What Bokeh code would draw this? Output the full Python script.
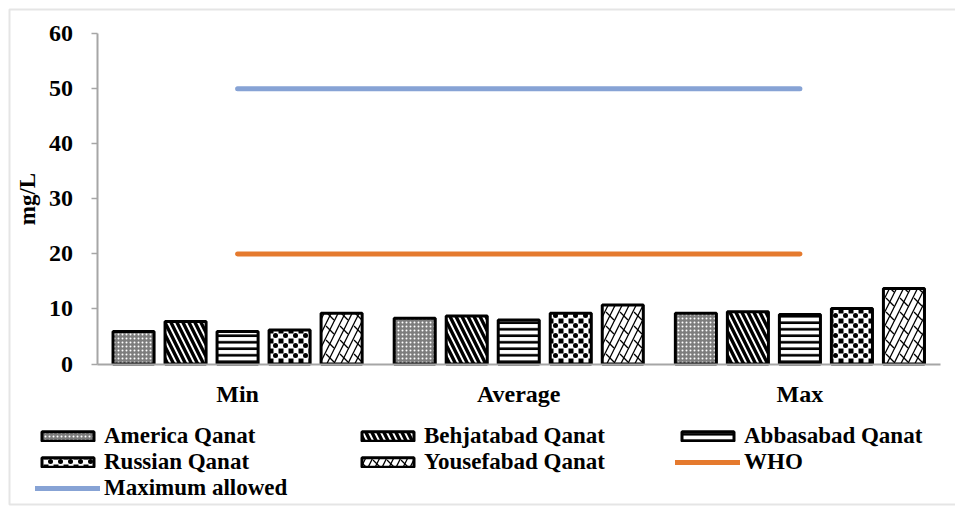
from bokeh.embed import file_html
from bokeh.models import (BoxAnnotation, ColumnDataSource, FixedTicker, Legend,
                          LegendItem, LinearAxis, Range1d, SingleIntervalTicker)
from bokeh.plotting import figure
from bokeh.resources import INLINE
from bokeh.transform import dodge

# ---- data (mg/L) ----
categories = ["Min", "Average", "Max"]
america = [5.9, 8.3, 9.2]
behjatabad = [7.7, 8.7, 9.5]
abbasabad = [5.9, 8.0, 9.0]
russian = [6.2, 9.2, 10.1]
yousefabad = [9.2, 10.7, 13.7]
who_limit = [20, 20, 20]
max_allowed = [50, 50, 50]

series_names = ["America Qanat", "Behjatabad Qanat", "Abbasabad Qanat",
                "Russian Qanat", "Yousefabad Qanat"]
line_names = ["WHO", "Maximum allowed"]

FONT = "Liberation Serif"

# ---- canvas layout (px) ----
W, H = 955, 506
AXIS_X, AXIS_Y0, AXIS_Y60 = 96.5, 363.5, 33.3
PLOT_RIGHT = 940.0
BORDER_TOP, BORDER_BOTTOM, BORDER_LEFT = 9, H - 2, 9
Y_MIN, Y_MAX = 0, 60

ncat = len(categories)
px_per_cat = (PLOT_RIGHT - AXIS_X) / ncat
px_per_unit = (AXIS_Y0 - AXIS_Y60) / (Y_MAX - Y_MIN)
y_top = Y_MAX + AXIS_Y60 / px_per_unit
x_range = Range1d(-AXIS_X / px_per_cat, (W - AXIS_X) / px_per_cat)
y_range = Range1d(-(H - AXIS_Y0) / px_per_unit, y_top)

# category slot centres on the numeric x scale
xpos = [i + 0.5 for i in range(ncat)]

source = ColumnDataSource(dict(
    xpos=xpos,
    america=america,
    behjatabad=behjatabad,
    abbasabad=abbasabad,
    russian=russian,
    yousefabad=yousefabad,
    who=who_limit,
    max_allowed=max_allowed,
))

p = figure(
    x_range=x_range, y_range=y_range,
    width=W, height=H, min_border=0,
    output_backend="svg", toolbar_location=None,
    x_axis_location=None, y_axis_location=None,
    border_fill_color="white", background_fill_color="white",
)
p.outline_line_color = None
p.grid.visible = False

# outer chart border (left, top, bottom)
p.add_layout(BoxAnnotation(
    left=BORDER_LEFT, left_units="screen", right=W + 50, right_units="screen",
    top=y_top - BORDER_TOP / px_per_unit,
    bottom=y_top - BORDER_BOTTOM / px_per_unit,
    fill_alpha=0, line_color="#a9a9a9", line_width=2, level="underlay",
))

bar_width = 0.146
offsets = [-0.37, -0.185, 0.0, 0.185, 0.37]
keys = ["america", "behjatabad", "abbasabad", "russian", "yousefabad"]

# each series: a base layer (fill + first hatch) and a top layer (second hatch + outline)
base_styles = [
    dict(fill_color="#7d7d7d", hatch_pattern="dot", hatch_color="white",
         hatch_scale=4),
    dict(fill_color="white", hatch_pattern="left_diagonal_line",
         hatch_color="black", hatch_scale=12, hatch_weight=3.4),
    dict(fill_color="white", hatch_pattern="horizontal_line",
         hatch_color="black", hatch_scale=6.5, hatch_weight=2.6),
    dict(fill_color="black", hatch_pattern="cross", hatch_color="white",
         hatch_scale=10, hatch_weight=5),
    dict(fill_color="white", hatch_pattern="right_diagonal_line",
         hatch_color="black", hatch_scale=14, hatch_weight=1.3),
]
top_styles = [
    dict(),
    dict(),
    dict(),
    dict(hatch_pattern="dot", hatch_color="black", hatch_scale=10),
    dict(hatch_pattern="left_diagonal_dash", hatch_color="black",
         hatch_scale=14, hatch_weight=1.3),
]

items = []
for key, off, name, bs, ts in zip(keys, offsets, series_names, base_styles,
                                  top_styles):
    x = dodge("xpos", off)
    r1 = p.vbar(x=x, top=key, width=bar_width, source=source,
                line_color=None, **bs)
    r2 = p.vbar(x=x, top=key, width=bar_width, source=source,
                fill_alpha=0, line_color="black", line_width=3, **ts)
    items.append(LegendItem(label=name, renderers=[r1, r2]))

who_r = p.line(x="xpos", y="who", source=source, line_color="#E57A2E",
               line_width=5, line_cap="round")
max_r = p.line(x="xpos", y="max_allowed", source=source, line_color="#87A3D5",
               line_width=5, line_cap="round")
items.append(LegendItem(label=line_names[0], renderers=[who_r]))
items.append(LegendItem(label=line_names[1], renderers=[max_r]))

# axes pinned to the data origin
yaxis = LinearAxis(
    fixed_location=0, bounds=(Y_MIN, Y_MAX),
    ticker=SingleIntervalTicker(interval=10),
    axis_label="mg/L", axis_label_standoff=7,
    axis_label_text_font=FONT, axis_label_text_font_style="bold",
    axis_label_text_font_size="23px", axis_label_text_color="black",
)
xaxis = LinearAxis(
    fixed_location=0, bounds=(0, ncat),
    ticker=FixedTicker(ticks=xpos),
    major_label_overrides={x: c for x, c in zip(xpos, categories)},
)
for ax in (xaxis, yaxis):
    ax.axis_line_color = "#a6a6a6"
    ax.axis_line_width = 2
    ax.minor_tick_line_color = None
    ax.major_label_text_font = FONT
    ax.major_label_text_font_style = "bold"
    ax.major_label_text_font_size = "24px"
    ax.major_label_text_color = "black"
yaxis.major_tick_line_color = "#a6a6a6"
yaxis.major_tick_line_width = 1.5
yaxis.major_tick_out = 6
yaxis.major_tick_in = 0
yaxis.major_label_standoff = 18
xaxis.major_tick_line_color = None
xaxis.major_label_standoff = 11
p.add_layout(yaxis, "left")
p.add_layout(xaxis, "below")

legend = Legend(
    items=items, ncols=3, orientation="horizontal",
    location=(35, H - 501),
    glyph_width=65, glyph_height=12, label_standoff=4,
    label_width=251, label_height=25, spacing=0, padding=0, margin=0,
    border_line_color=None, background_fill_color=None,
    label_text_font=FONT, label_text_font_style="bold",
    label_text_font_size="23px", label_text_color="black",
)
p.add_layout(legend, "center")

open("out.html", "w").write(file_html(p, INLINE))
